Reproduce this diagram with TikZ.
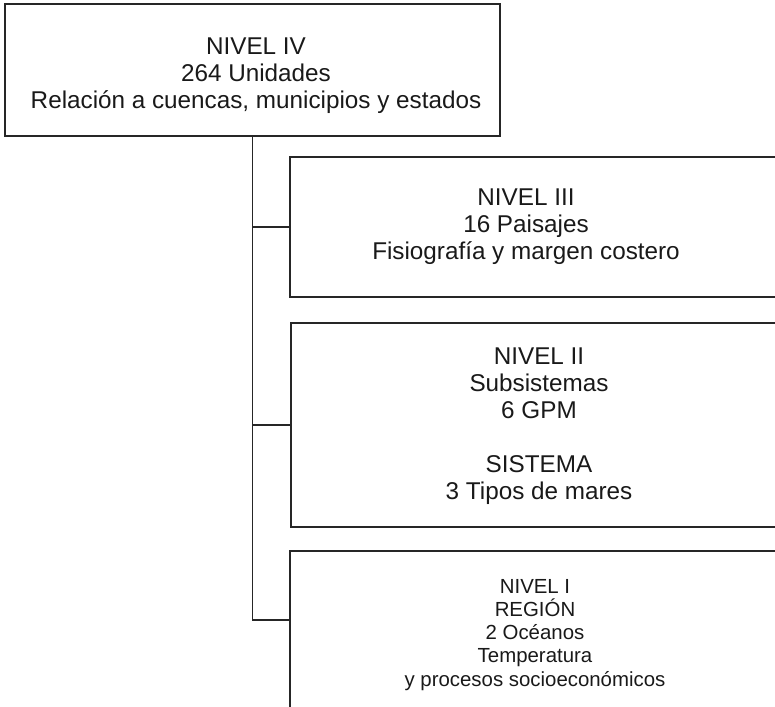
\documentclass[tikz,border=0pt]{standalone}
\usepackage{fontspec}
\setmainfont{Liberation Sans}
\usetikzlibrary{positioning, calc}

\begin{document}
\begin{tikzpicture}[x=0.75pt,y=0.75pt,yscale=-1,xscale=1,
    box/.style={draw=black!85, line width=1.3pt, rectangle, inner sep=0pt},
    lbl/.style={text=black!90, align=center, inner sep=0pt, font=\fontsize{18.2}{20.25}\selectfont},
    lblsmall/.style={lbl, font=\fontsize{15.3}{17.3}\selectfont},
    link/.style={draw=black!85, line width=1.1pt}]
    %set diagram at 775 x 707, boxes on the right run past the edge
    \clip (0,0) rectangle (775,707);
    
    % Boxes
    \node [box, minimum width=371.25pt, minimum height=99pt] (nivel4) at (252.5,70) {};
    \node [box, minimum width=390pt, minimum height=105pt] (nivel3) at (550,227) {};
    \node [box, minimum width=390pt, minimum height=153pt] (nivel2) at (551,425) {};
    \node [box, minimum width=390pt, minimum height=165pt] (nivel1) at (550,661) {};
    
    % Text Node
    \node [lbl] (t4) at (256,76) {NIVEL IV\\264 Unidades\\Relación a cuencas, municipios y estados};
    % Text Node
    \node [lbl] (t3) at (526,227) {NIVEL III\\16 Paisajes\\Fisiografía y margen costero};
    % Text Node
    \node [lbl] (t2) at (539,426) {NIVEL II\\Subsistemas\\6 GPM\\[\baselineskip]SISTEMA\\3 Tipos de mares};
    % Text Node
    \node [lblsmall] (t1) at (535,635) {NIVEL I\\REGIÓN\\2 Océanos\\Temperatura\\y procesos socioeconómicos};
    
    % Connectors
    \coordinate (j1) at ([yshift=52.5pt]nivel1.north west);
    \draw [link] (nivel4.south) |- (nivel3.west);
    \draw [link] (nivel4.south) |- (nivel2.west);
    \draw [link] (nivel4.south) |- (j1);
\end{tikzpicture}
\end{document}
